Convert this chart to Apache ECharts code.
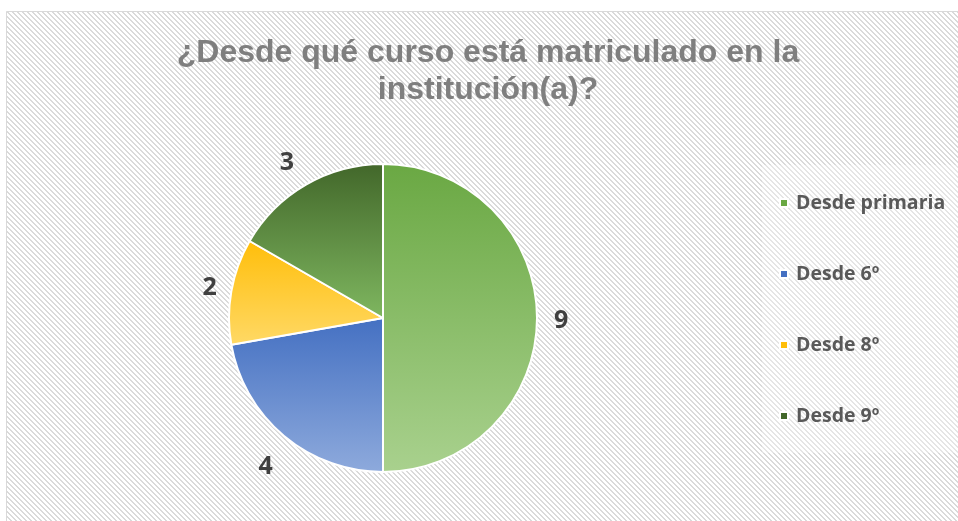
<!DOCTYPE html>
<html>
<head>
<meta charset="utf-8">
<script src="https://cdn.jsdelivr.net/npm/echarts@6/dist/echarts.min.js"></script>
<style>
  html, body { margin: 0; padding: 0; background: #fff; }
  #chart { width: 958px; height: 521px; }
</style>
</head>
<body>
<div id="chart"></div>
<script>
// datos
const categories = ['Desde primaria', 'Desde 6º', 'Desde 8º', 'Desde 9º']
const values = [9, 4, 2, 3]
const colorTop = ['#6aa843', '#4470c2', '#ffbe0a', '#42672a']
const colorBottom = ['#a9d18e', '#8eaadc', '#ffd966', '#7fb760']
// pequeños ajustes de posición de las etiquetas (estilo "mejor ajuste")
const labelNudge = [[-10, 3], [8, 14], [12, 0], [4, -3]]

// fondo rayado
const makeHatch = () => {
  const c = document.createElement('canvas')
  c.width = 5
  c.height = 5
  const ctx = c.getContext('2d')
  ctx.fillStyle = '#ffffff'
  ctx.fillRect(0, 0, 5, 5)
  ctx.fillStyle = '#dadada'
  for (let y = 0; y < 5; y++) {
    for (let x = 0; x < 5; x++) {
      const k = ((x - y) % 5 + 5) % 5
      if (k === 0 || k === 1) ctx.fillRect(x, y, 1, 1)
    }
  }
  return c
}

const chart = echarts.init(document.getElementById('chart'))

const data = categories.map((name, i) => ({
  name: name,
  value: values[i],
  itemStyle: {
    color: {
      type: 'linear', x: 0, y: 0, x2: 0, y2: 1,
      colorStops: [
        { offset: 0, color: colorTop[i] },
        { offset: 1, color: colorBottom[i] }
      ]
    }
  }
}))

chart.setOption({
  animation: false,
  backgroundColor: '#ffffff',
  graphic: [
    {
      type: 'rect',
      z: -10,
      shape: { x: 6.5, y: 11.5, width: 960, height: 520 },
      style: { fill: { image: makeHatch(), repeat: 'repeat' }, stroke: '#d9d9d9', lineWidth: 1 }
    }
  ],
  title: {
    text: '¿Desde qué curso está matriculado en la\ninstitución(a)?',
    left: 488,
    top: 35,
    textAlign: 'center',
    padding: 0,
    textStyle: {
      fontFamily: 'Liberation Sans',
      fontWeight: 'bold',
      fontSize: 32,
      lineHeight: 37,
      color: '#7f7f7f'
    }
  },
  legend: {
    orient: 'vertical',
    left: 762,
    top: 165,
    padding: [28, 20, 27, 17],
    backgroundColor: 'rgba(255,255,255,0.3)',
    itemWidth: 8,
    itemHeight: 8,
    itemGap: 51,
    icon: 'rect',
    textStyle: {
      fontFamily: 'Open Sans',
      fontWeight: 'bold',
      fontSize: 19.5,
      lineHeight: 20,
      color: '#595959',
      padding: [0, 0, 0, 3]
    },
    data: categories.map((name, i) => ({ name: name, itemStyle: { color: colorTop[i] } }))
  },
  series: [
    {
      type: 'pie',
      center: [383, 318],
      radius: 154,
      startAngle: 90,
      clockwise: true,
      avoidLabelOverlap: false,
      itemStyle: { borderColor: '#ffffff', borderWidth: 2 },
      label: {
        show: true,
        position: 'outside',
        formatter: '{c}',
        fontFamily: 'Open Sans',
        fontWeight: 'bold',
        fontSize: 25,
        color: '#404040'
      },
      labelLine: { show: false, length: 22, length2: 0 },
      labelLayout: (params) => ({
        dx: labelNudge[params.dataIndex][0],
        dy: labelNudge[params.dataIndex][1]
      }),
      emphasis: { disabled: true },
      data: data
    }
  ]
})
</script>
</body>
</html>
